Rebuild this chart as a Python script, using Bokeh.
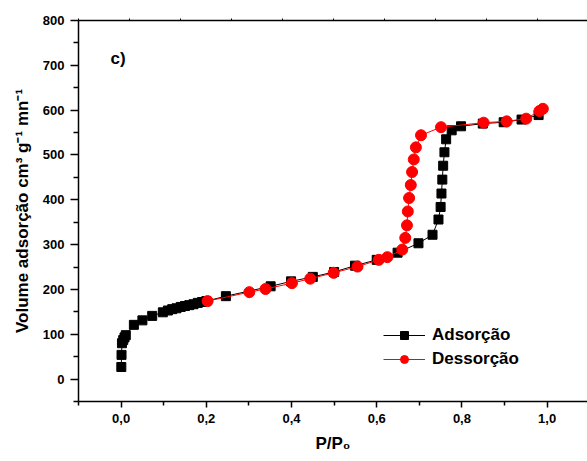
from bokeh.plotting import figure
from bokeh.models import Range1d, FixedTicker, LinearAxis, Legend, LegendItem, Label
from bokeh.embed import file_html
from bokeh.resources import INLINE

# Adsorption branch (black squares)
ads_x = [0.0005, 0.001, 0.002, 0.005, 0.008, 0.011, 0.03, 0.05, 0.073, 0.098,
         0.11, 0.12, 0.13, 0.14, 0.15, 0.16, 0.17, 0.18, 0.19, 0.2,
         0.246, 0.351, 0.399, 0.45, 0.5, 0.549, 0.6, 0.649, 0.698, 0.731,
         0.745, 0.75, 0.752, 0.754, 0.756, 0.759, 0.763, 0.776, 0.798, 0.849,
         0.898, 0.94, 0.98]
ads_y = [27, 54, 80, 87, 93, 98, 121, 131, 141, 149,
         153, 156, 158, 161, 163, 165, 167, 170, 172, 174,
         185, 207, 218, 228, 239, 253, 266, 282, 303, 322,
         356, 384, 414, 445, 476, 506, 535, 555, 564, 570,
         573, 579, 589]

# Desorption branch (red circles)
des_x = [0.99, 0.982, 0.951, 0.905, 0.851, 0.751, 0.704, 0.692, 0.687, 0.683,
         0.680, 0.676, 0.673, 0.671, 0.667, 0.660, 0.625, 0.605, 0.555, 0.499,
         0.444, 0.401, 0.339, 0.301, 0.203]
des_y = [603, 598, 581, 575, 572, 562, 544, 517, 490, 462,
         433, 404, 374, 343, 315, 289, 272, 266, 251, 237,
         224, 214, 201, 194, 174]

x_ticks = [0.0, 0.2, 0.4, 0.6, 0.8, 1.0]
x_tick_labels = ["0,0", "0,2", "0,4", "0,6", "0,8", "1,0"]
x_minor = [-0.1, 0.1, 0.3, 0.5, 0.7, 0.9, 1.1]
y_ticks = [0, 100, 200, 300, 400, 500, 600, 700, 800]
y_minor = [-50, 50, 150, 250, 350, 450, 550, 650, 750]
top_ticks = [-0.1, 0.0197, 0.1394, 0.2591, 0.3788, 0.4985, 0.6182, 0.7379, 0.8576, 0.9773]

FONT = "Liberation Sans"

p = figure(width=587, height=461, output_backend="svg", toolbar_location=None,
           x_range=Range1d(-0.1, 1.0948), y_range=Range1d(-50, 800),
           min_border_left=78, min_border_right=0, min_border_top=20,
           min_border_bottom=60, x_axis_label="P/P₀",
           y_axis_label="Volume adsorção cm³ g⁻¹ mn⁻¹")
p.grid.visible = False
p.outline_line_color = None
p.background_fill_color = "white"
p.border_fill_color = "white"

for ax in (p.xaxis[0], p.yaxis[0]):
    ax.axis_line_width = 1.5
    ax.axis_line_color = "black"
    ax.major_tick_line_width = 1.5
    ax.minor_tick_line_width = 1.5
    ax.major_tick_line_color = "black"
    ax.minor_tick_line_color = "black"
    ax.major_tick_in = 0
    ax.minor_tick_in = 0
    ax.major_label_text_font = FONT
    ax.major_label_text_font_style = "bold"
    ax.major_label_text_font_size = "13px"
    ax.major_label_text_color = "black"
    ax.axis_label_text_font = FONT
    ax.axis_label_text_font_style = "bold"
    ax.axis_label_text_font_size = "17px"
    ax.axis_label_text_color = "black"

p.xaxis[0].ticker = FixedTicker(ticks=x_ticks, minor_ticks=x_minor)
p.xaxis[0].major_label_overrides = dict(zip(x_ticks, x_tick_labels))
p.xaxis[0].major_tick_out = 6
p.xaxis[0].minor_tick_out = 4
p.xaxis[0].major_label_standoff = 6
p.xaxis[0].axis_label_standoff = 8

p.yaxis[0].ticker = FixedTicker(ticks=y_ticks, minor_ticks=y_minor)
p.yaxis[0].major_tick_out = 8
p.yaxis[0].minor_tick_out = 5
p.yaxis[0].major_label_standoff = 6
p.yaxis[0].axis_label_standoff = 8

# top border line with small ticks only (no labels)
top = LinearAxis(ticker=FixedTicker(ticks=[], minor_ticks=top_ticks),
                 axis_line_width=1.5, axis_line_color="black",
                 major_tick_line_color=None,
                 minor_tick_line_width=1, minor_tick_line_color="black",
                 minor_tick_in=0, minor_tick_out=2, major_label_standoff=0)
p.add_layout(top, "above")

l1 = p.line(ads_x, ads_y, line_color="black", line_width=1)
s1 = p.scatter(ads_x, ads_y, marker="square", size=9, fill_color="black", line_color="black")
l2 = p.line(des_x, des_y, line_color="#ff0000", line_width=1)
s2 = p.scatter(des_x, des_y, marker="circle", size=11, fill_color="#ff0000", line_color="#ff0000")

legend = Legend(items=[LegendItem(label="Adsorção", renderers=[l1, s1]),
                       LegendItem(label="Dessorção", renderers=[l2, s2])],
                location=(305, 32), glyph_width=42, glyph_height=20, spacing=4,
                label_standoff=7, padding=0, margin=0,
                border_line_color=None, background_fill_alpha=0,
                label_text_font=FONT, label_text_font_style="bold",
                label_text_font_size="17px", label_text_color="black")
p.add_layout(legend, "center")

p.add_layout(Label(x=-0.025, y=716, text="c)", text_font=FONT, text_font_style="bold",
                   text_font_size="17px", text_baseline="middle", text_color="black"))

open("out.html", "w").write(file_html(p, INLINE))
